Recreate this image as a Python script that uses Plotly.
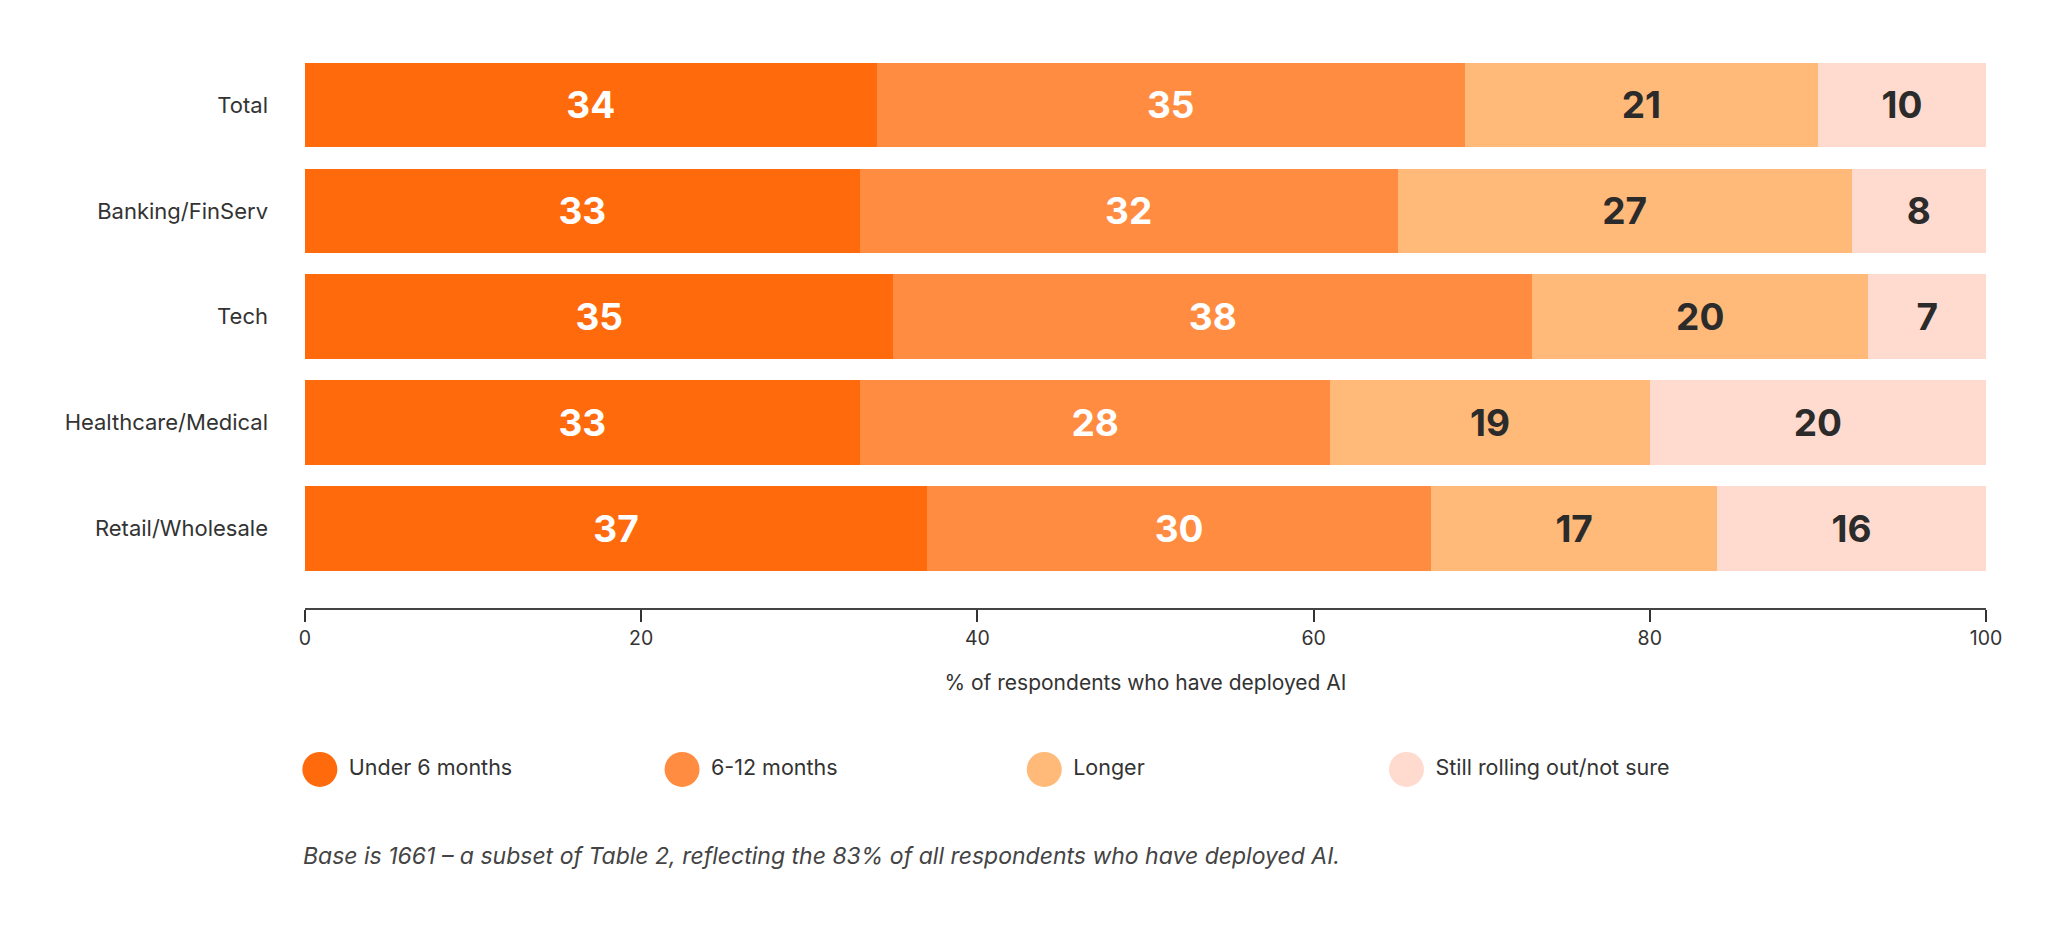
import plotly.graph_objects as go

# Data
categories = ["Total", "Banking/FinServ", "Tech", "Healthcare/Medical", "Retail/Wholesale"]
series_names = ["Under 6 months", "6-12 months", "Longer", "Still rolling out/not sure"]
under_6 = [34, 33, 35, 33, 37]
months_6_12 = [35, 32, 38, 28, 30]
longer = [21, 27, 20, 19, 17]
still_rolling = [10, 8, 7, 20, 16]
x_ticks = [0, 20, 40, 60, 80, 100]
note = "Base is 1661 – a subset of Table 2, reflecting the 83% of all respondents who have deployed AI."

colors = ["#FF6A0C", "#FF8C40", "#FFB978", "#FFDBCF"]
text_colors = ["white", "white", "#2B2B2B", "#2B2B2B"]
FONT = "Inter"

fig = go.Figure()

# Stacked horizontal bars
for name, vals, col, tcol in zip(series_names, [under_6, months_6_12, longer, still_rolling],
                                 colors, text_colors):
    fig.add_trace(go.Bar(
        y=categories, x=vals, orientation="h", name=name,
        marker=dict(color=col, line=dict(width=0)),
        text=[str(v) for v in vals], textposition="inside",
        insidetextanchor="middle", constraintext="none",
        textfont=dict(family=FONT, size=37, color=tcol, weight=700),
        showlegend=False, hoverinfo="x+y+name",
    ))

# Custom legend with large circles, drawn on a hidden axis pair
fig.add_trace(go.Scatter(
    x=list(range(len(series_names))), y=[0] * len(series_names),
    mode="markers+text", text=["\u00a0" + s for s in series_names],
    textposition="middle right",
    textfont=dict(family=FONT, size=21.5, color="#333333"),
    marker=dict(size=35, color=colors, symbol="circle"),
    xaxis="x2", yaxis="y2", showlegend=False, hoverinfo="skip",
    cliponaxis=False,
))

fig.update_layout(
    width=2048, height=933,
    barmode="stack", bargap=0.2,
    plot_bgcolor="white", paper_bgcolor="white",
    margin=dict(l=297, r=70, t=44, b=40),
    font=dict(family=FONT, color="#333333"),
    xaxis=dict(
        range=[0, 100], tickvals=x_ticks, ticks="outside", ticklen=12,
        tickwidth=1.5, tickcolor="#333333", showline=True, linewidth=2,
        linecolor="#444444", showgrid=False, zeroline=False,
        tickfont=dict(family=FONT, size=19.5, color="#333333"),
        title=dict(text="% of respondents who have deployed AI", standoff=26,
                   font=dict(family=FONT, size=21, color="#333333")),
        anchor="y", fixedrange=True,
    ),
    yaxis=dict(
        domain=[0.3451, 1.0], categoryorder="array",
        categoryarray=categories[::-1], range=[-0.75, 4.5],
        showgrid=False, zeroline=False, showline=False, ticks="",
        ticklabelstandoff=36,
        tickfont=dict(family=FONT, size=22, color="#333333"),
        fixedrange=True,
    ),
    xaxis2=dict(domain=[0, 1], range=[-0.041, 4.6], visible=False,
                anchor="y2", fixedrange=True),
    yaxis2=dict(domain=[0.11, 0.20], range=[-1, 1], visible=False,
                anchor="x2", fixedrange=True),
    annotations=[dict(
        text=f"<i>{note}</i>", xref="paper", yref="paper", x=0, y=0.053,
        xanchor="left", yanchor="middle", showarrow=False, xshift=-4,
        font=dict(family=FONT, size=23, color="#444444"),
    )],
)

fig.write_html("out.html")
